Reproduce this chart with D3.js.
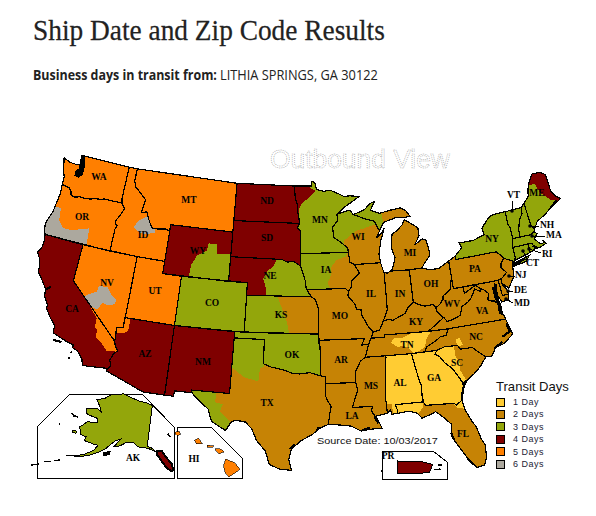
<!DOCTYPE html>
<html>
<head>
<meta charset="utf-8">
<script src="https://cdnjs.cloudflare.com/ajax/libs/d3/7.8.5/d3.min.js"></script>
<style>
body { margin: 0; background: #fff; }
svg { display: block; }
</style>
</head>
<body>
<svg id="chart" width="596" height="516"></svg>
<script>
// legend categories
var dayLabels = ["1 Day", "2 Days", "3 Days", "4 Days", "5 Days", "6 Days"];
var dayColors = ["#ffcc33", "#c68305", "#93a60b", "#7f0000", "#ff7f00", "#aca89e"];

// shared borders, lon/lat
var columbia = [[-124.05,46.27],[-123.4,46.2],[-123.15,46.15],[-122.85,45.9],[-122.75,45.65],[-122.3,45.55],[-121.7,45.7],[-121.2,45.65],[-120.6,45.72],[-119.95,45.85],[-119.3,45.93],[-119,46],[-116.92,46]];
var snake = [[-116.92,46],[-116.78,45.85],[-116.46,45.6],[-116.67,45.3],[-116.85,44.95],[-117.2,44.45],[-117.05,44.23],[-116.9,44.15],[-117.03,43.83],[-117.03,42]];
var colorado = [[-114.72,32.72],[-114.5,33],[-114.7,33.4],[-114.5,33.9],[-114.15,34.26],[-114.43,34.6],[-114.63,35]];
var bitterroot = [[-111.05,44.47],[-111.5,44.6],[-112.3,44.5],[-113,44.45],[-113.45,44.95],[-113.95,45.7],[-114.55,45.55],[-114.35,46.65],[-115.3,47.25],[-115.75,47.5],[-116.05,48],[-116.05,49]];
var redRiverN = [[-97.23,49],[-97.1,48],[-96.85,47.5],[-96.8,46.9],[-96.56,45.94]];
var sdMn = [[-96.56,45.94],[-96.85,45.6],[-96.45,45.3],[-96.45,43.5],[-96.45,42.49]];
var missouriSd = [[-96.45,42.49],[-97.2,42.85],[-97.9,42.8],[-98.5,43]];
var missouriNe = [[-96.45,42.49],[-96.1,41.7],[-95.9,41.2],[-95.85,40.7],[-95.31,40]];
var missouriKs = [[-95.31,40],[-94.9,39.8],[-94.62,39.1]];
var redRiverS = [[-94.48,33.64],[-95.5,33.9],[-96.5,33.8],[-97.2,33.85],[-98,34.1],[-99.2,34.3],[-100,34.56]];
var sabine = [[-94.04,31.99],[-93.8,31.5],[-93.55,31.15],[-93.7,30.5],[-93.85,29.7]];
var wiMn = [[-92.29,46.66],[-92.29,46.08],[-92.85,45.6],[-92.75,44.75],[-91.9,44.3],[-91.25,43.85],[-91.22,43.5]];
var mississippiIa = [[-90.65,42.5],[-90.15,41.8],[-91.05,41.2],[-91.1,40.7],[-91.42,40.38]];
var mississippiMo = [[-91.42,40.38],[-91.5,40],[-90.75,39.25],[-90.7,38.9],[-90.15,38.8],[-90.2,38.4],[-89.5,37.3],[-89.15,37]];
var mississippiAr = [[-89.7,36],[-90.1,35],[-90.6,34.7],[-91.1,33.9],[-91.17,33]];
var mississippiLa = [[-91.17,33],[-91,32.4],[-91.6,31]];
var pearl = [[-89.73,31],[-89.85,30.65],[-89.55,30.18]];
var msAl = [[-88.2,35],[-88.1,34.9],[-88.47,31.9],[-88.4,30.37]];
var chattahoochee = [[-85.18,32.87],[-85,32.3],[-85.05,31.55],[-85,31]];
var savannah = [[-83.11,35],[-83.35,34.7],[-82.9,34.45],[-82.55,33.95],[-81.9,33.4],[-81.4,32.6],[-81.1,32.1]];
var ncSc = [[-83.11,35],[-82.3,35.2],[-81.05,35.15],[-80.8,34.82],[-79.67,34.8],[-78.55,33.86]];
var tnNc = [[-81.68,36.59],[-82,36.1],[-82.6,36.03],[-83.1,35.75],[-84,35.4],[-84.32,34.99]];
var ohioKy = [[-89.15,37],[-88.5,37.1],[-88.05,37.8],[-87.5,37.9],[-87.1,37.8],[-86.5,38],[-85.8,38.25],[-85.4,38.7],[-84.82,39.1],[-84.2,38.8],[-83.7,38.65],[-82.85,38.7],[-82.6,38.4]];
var bigSandy = [[-82.6,38.4],[-82.6,38.17],[-82,37.54],[-81.97,37.54],[-83.68,36.6]];
var wvVa = [[-81.97,37.54],[-81.68,37.2],[-81.2,37.25],[-80.3,37.5],[-79.95,38.2],[-79.3,38.45],[-78.87,38.77],[-78.35,39.39],[-77.83,39.13],[-77.72,39.32]];
var potomac = [[-77.72,39.32],[-77.45,39.2],[-77.05,38.85],[-77.25,38.35],[-76.3,37.95]];
var ohioWv = [[-82.6,38.4],[-82.2,38.6],[-81.75,39],[-81.7,39.25],[-80.87,39.7],[-80.52,40.64]];
var wvMd = [[-79.48,39.72],[-79.48,39.2],[-78.4,39.62],[-78.2,39.68],[-77.72,39.32]];
var wabash = [[-88.05,37.8],[-87.55,38.7],[-87.53,39.35],[-87.53,41.72]];
var wiUp = [[-90.4,46.55],[-89.1,46.13],[-88.1,45.9],[-87.8,45.35],[-87.6,45.1]];
var delaware = [[-75.35,42],[-75.05,41.75],[-74.7,41.36],[-75.13,40.98],[-75.2,40.68],[-74.75,40.2],[-75.4,39.8]];
var nyVt = [[-73.35,45],[-73.4,44],[-73.25,43.6],[-73.27,42.75]];
var vtNh = [[-71.5,45.01],[-71.6,44.5],[-72.05,44.1],[-72.4,43.3],[-72.46,42.73]];
var potato = [[-71.08,45.3],[-70.4,45.75],[-70.25,46.2],[-70,46.7],[-69.23,47.46],[-68.3,47.35],[-67.79,47.07],[-67.79,45.7],[-67.45,45.2],[-67,44.85],[-68.5,44.3],[-69.1,44],[-70.2,43.6],[-70.7,43.07]];

function rev(chain) { return chain.slice().reverse(); }

// states, lon/lat rings
var WA = [[-124.73,48.38],[-123.9,48.17],[-123.1,48.15],[-122.76,48.2],[-122.76,49],[-117.04,49],[-117.04,46.42]].concat(rev(columbia), [[-124.1,46.9],[-124.35,47.3],[-124.6,47.9]]);
var OR = columbia.concat(snake, [[-124.21,42],[-124.4,42.3],[-124.55,42.84],[-124.4,43.3],[-124.15,43.9],[-124.05,44.7],[-123.95,45.5]]);
var CA = [[-124.21,42],[-120,42],[-120,39],[-114.63,35]].concat(rev(colorado), [[-117.12,32.53],[-117.3,33],[-117.9,33.6],[-118.4,33.75],[-118.45,34],[-119.2,34.15],[-120.6,34.55],[-120.65,35.15],[-121.3,35.7],[-121.85,36.3],[-121.9,36.65],[-122.4,37.2],[-122.5,37.8],[-123,38.3],[-123.7,38.95],[-123.8,39.5],[-124,40],[-124.4,40.44],[-124.1,41],[-124.1,41.5]]);
var NV = [[-120,42],[-114.04,42],[-114.04,37],[-114.05,36.2],[-114.7,36.1],[-114.57,35.2],[-114.63,35],[-120,39]];
var ID = [[-117.04,49],[-116.05,49]].concat(rev(bitterroot), [[-111.05,42],[-114.04,42]], rev(snake), [[-117.04,46.42]]);
var MT = [[-116.05,49],[-104.05,49],[-104.05,45],[-111.05,45]].concat(bitterroot);
var WY = [[-111.05,45],[-104.05,45],[-104.05,41],[-111.05,41]];
var UT = [[-114.04,42],[-111.05,42],[-111.05,41],[-109.05,41],[-109.05,37],[-114.04,37]];
var CO = [[-109.05,41],[-102.05,41],[-102.05,37],[-109.05,37]];
var AZ = [[-114.05,37],[-109.05,37],[-109.05,31.33],[-111.07,31.33],[-114.81,32.5]].concat(colorado, [[-114.57,35.2],[-114.7,36.1],[-114.05,36.2]]);
var NM = [[-109.05,37],[-103,37],[-103.04,32],[-106.62,32],[-106.53,31.78],[-108.2,31.78],[-108.2,31.33],[-109.05,31.33]];
var ND = [[-104.05,49]].concat(redRiverN, [[-104.05,45.94]]);
var SD = [[-104.05,45.94]].concat(sdMn, missouriSd, [[-104.05,43]]);
var NE = [[-104.05,43],[-98.5,43]].concat(rev(missouriSd), missouriNe, [[-102.05,40],[-102.05,41],[-104.05,41]]);
var KS = [[-102.05,40]].concat(missouriKs, [[-94.62,37],[-102.05,37]]);
var OK = [[-103,37],[-94.62,37],[-94.43,35.4]].concat(redRiverS, [[-100,36.5],[-103,36.5]]);
var TX = [[-103,36.5],[-100,36.5]].concat(rev(redRiverS), [[-94.04,33.55]], sabine, [[-94.7,29.35],[-95.3,28.9],[-96.4,28.35],[-97.2,27.65],[-97.4,26.8],[-97.15,25.96],[-98.2,26.05],[-99.1,26.4],[-99.5,27.5],[-100.3,28.3],[-100.8,29.25],[-101.4,29.77],[-102.3,29.88],[-102.7,29.7],[-103.15,28.98],[-104.5,29.65],[-104.9,30.6],[-106.2,31.47],[-106.53,31.78],[-106.62,32],[-103.04,32]]);
var MN = [[-97.23,49],[-95.15,49],[-95.15,49.38],[-94.8,49.3],[-94.6,48.72],[-93.8,48.55],[-92.95,48.62],[-92,48.3],[-91.4,48.07],[-90.75,48.1],[-89.6,48],[-90.5,47.6],[-91.3,47.25],[-92.1,46.75]].concat(wiMn, [[-96.45,43.5],[-96.45,45.3],[-96.85,45.6]], rev(redRiverN));
var IA = [[-96.45,43.5],[-91.22,43.5],[-91.1,42.7]].concat(mississippiIa, [[-91.73,40.61],[-95.77,40.58],[-95.85,40.7],[-95.9,41.2],[-96.1,41.7],[-96.45,42.49]]);
var MO = [[-95.77,40.58],[-91.73,40.61]].concat(mississippiMo, [[-89.42,36.5],[-89.7,36],[-90.37,36],[-90.07,36.5],[-94.62,36.5],[-94.62,37]], rev(missouriKs));
var AR = [[-94.62,36.5],[-90.07,36.5],[-90.37,36]].concat(mississippiAr, [[-94.04,33],[-94.04,33.55],[-94.48,33.64],[-94.43,35.4]]);
var LA = [[-94.04,33]].concat(mississippiLa, pearl, [[-89.4,30.05],[-89,29.2],[-90.1,29.15],[-90.9,29.05],[-91.8,29.5],[-92.6,29.6]], rev(sabine));
var MS = rev(mississippiAr.slice(1)).concat([[-88.2,35]], msAl.slice(1), rev(pearl), [[-91.6,31],[-91,32.4]]);
var AL = [[-88.2,35],[-85.6,34.98]].concat(chattahoochee, [[-87.6,31],[-87.45,30.5],[-87.5,30.28],[-88,30.25],[-88.1,30.6],[-88.4,30.37],[-88.47,31.9],[-88.1,34.9]]);
var GA = [[-85.6,34.98]].concat(savannah, [[-81.15,31.7],[-81.4,31],[-81.45,30.72],[-82.05,30.4],[-82.2,30.57],[-84.86,30.7]], rev(chattahoochee));
var FL = [[-87.6,31],[-85,31],[-84.86,30.7],[-82.2,30.57],[-82.05,30.4],[-81.45,30.72],[-81.3,29.9],[-80.9,29],[-80.55,28.4],[-80.3,27.4],[-80.03,26.8],[-80.13,25.8],[-80.4,25.2],[-81.1,25.13],[-81.75,25.95],[-82.1,26.6],[-82.7,27.6],[-82.85,28.2],[-82.7,28.9],[-83.4,29.6],[-84,30.1],[-84.35,29.95],[-85.3,29.7],[-85.7,30.15],[-86.4,30.38],[-87.5,30.28],[-87.45,30.5]];
var SC = ncSc.concat([[-79.2,33.2],[-79.9,32.7],[-80.65,32.25]], rev(savannah));
var NC = [[-84.32,34.99]].concat(ncSc, [[-77.95,33.85],[-77.4,34.5],[-76.55,34.65],[-75.55,35.25],[-75.9,36.55]], tnNc);
var TN = [[-89.42,36.5],[-88.05,36.5],[-88.07,36.68],[-83.68,36.6]].concat(tnNc, [[-85.6,34.98],[-88.2,35],[-90.1,35],[-89.7,36]]);
var KY = [[-89.42,36.5],[-89.15,37]].concat(ohioKy.slice(1), bigSandy.slice(1), [[-88.07,36.68],[-88.05,36.5]]);
var VA = [[-83.68,36.6],[-81.97,37.54]].concat(wvVa.slice(1), potomac.slice(1), [[-76.3,37.6],[-76.4,37.1],[-76,36.9],[-75.9,36.55],[-81.68,36.59]]);
var WV = ohioWv.concat([[-80.52,39.72]], wvMd, rev(wvVa), [[-82,37.54],[-82.6,38.17]]);
var OH = [[-84.82,41.7],[-83.45,41.73],[-82.7,41.5],[-81.7,41.5],[-80.52,41.98],[-80.52,40.64]].concat(rev(ohioWv).slice(1), rev(ohioKy).slice(1, 5));
var IN = [[-87.53,41.72],[-87.2,41.62],[-86.82,41.76],[-84.82,41.7],[-84.82,39.1],[-85.4,38.7],[-85.8,38.25],[-86.5,38],[-87.1,37.8],[-87.5,37.9]].concat(wabash);
var IL = [[-90.65,42.5],[-87.8,42.5],[-87.6,41.85]].concat(rev(wabash), [[-88.5,37.1]], rev(mississippiMo), rev(mississippiIa).slice(1));
var WI = [[-92.29,46.66],[-91.2,46.87],[-90.8,46.9]].concat(wiUp, [[-88,44.55],[-87.4,44.9],[-87.05,45.28],[-87.55,44.3],[-87.9,43.2],[-87.8,42.5],[-90.65,42.5],[-91.1,42.7]], rev(wiMn));
var MI = [[-86.82,41.76],[-84.82,41.7],[-83.45,41.73],[-83.15,42.05],[-82.5,42.6],[-82.42,43],[-82.6,43.9],[-83,44.05],[-83.9,43.65],[-83.3,44.35],[-83.3,45],[-84.7,45.78],[-85,45.4],[-85.6,45],[-86.25,44.7],[-86.5,43.7],[-86.2,42.8],[-86.6,41.9]];
var UP = [[-90.4,46.55],[-89.1,46.9],[-88.4,47.38],[-87.9,47.47],[-88.45,46.8],[-87.4,46.5],[-86.2,46.67],[-85,46.77],[-84.4,46.5],[-84,46],[-84.7,45.95],[-85.5,46.05],[-86.5,45.85],[-87.05,45.75],[-87.6,45.1],[-87.8,45.35],[-88.1,45.9],[-89.1,46.13]];
var PA = [[-80.52,41.98],[-79.76,42.27],[-79.76,42]].concat(delaware, [[-75.79,39.72],[-80.52,39.72],[-80.52,40.64]]);
var NY = [[-79.76,42.27],[-78.9,42.85],[-79.05,43.27],[-77.5,43.27],[-76.2,43.55],[-76.3,44.1],[-75.3,44.85],[-74.7,45]].concat(nyVt, [[-73.5,42.05],[-73.5,41.2],[-73.66,41],[-73.9,40.75],[-72,41.1],[-72.5,40.7],[-73.9,40.55],[-74,40.7],[-73.9,41],[-74.7,41.36],[-75.05,41.75],[-75.35,42],[-79.76,42]]);
var NJ = [[-74.7,41.36],[-73.9,41],[-74,40.45],[-74.1,39.75],[-74.9,38.93],[-75.5,39.45],[-75.4,39.8],[-74.75,40.2],[-75.2,40.68],[-75.13,40.98]];
var DE = [[-75.79,39.72],[-75.4,39.8],[-75.55,39.45],[-75.1,38.8],[-75.05,38.45],[-75.7,38.46]];
var MD = [[-79.48,39.72],[-75.79,39.72],[-75.7,38.46],[-75.05,38.45],[-75.24,38.03],[-75.9,37.95],[-76.2,38.6],[-76.1,39.4],[-76.5,39.2],[-76.5,38.4],[-76.3,38.05]].concat(rev(potomac).slice(1,4), [[-77.72,39.32],[-78.2,39.68],[-78.4,39.62],[-79.48,39.2]]);
var CT = [[-73.5,42.05],[-71.8,42.02],[-71.85,41.32],[-73.66,41],[-73.5,41.2]];
var RI = [[-71.8,42.02],[-71.38,42.02],[-71.2,41.5],[-71.85,41.32]];
var MA = [[-73.27,42.75],[-72.46,42.73],[-71.3,42.7],[-70.85,42.87],[-70.6,42.65],[-71,42.3],[-70.55,41.8],[-70,41.8],[-70.2,42.07],[-69.95,41.7],[-70.6,41.55],[-71.2,41.5],[-71.38,42.02],[-73.5,42.05]];
var VT = [[-73.35,45]].concat(vtNh, [[-73.27,42.75],[-73.25,43.6],[-73.4,44]]);
var NH = vtNh.concat([[-71.3,42.7],[-70.85,42.87],[-70.7,43.07],[-70.98,43.4],[-71.08,45.3]]);
var ME = potato.concat([[-70.98,43.4]]);

// insets
var AK = [[-141,69.65],[-143.5,70.1],[-148,70.4],[-152,70.85],[-156.5,71.3],[-159,70.8],[-162,70.3],[-163.5,69.2],[-166.5,68.3],[-163.5,67.1],[-161.8,66.1],[-164,66.5],[-168,65.6],[-166.3,64.6],[-162,64.5],[-161,63.6],[-164.5,63.1],[-165.5,61.9],[-166,61.6],[-164,60],[-162,59.9],[-161.8,59],[-158,58.8],[-157,58.8],[-157.5,57.5],[-160,55.9],[-163,55],[-164.5,54.7],[-161,55.3],[-158.5,56],[-156,57.3],[-154,58.6],[-153.3,59.5],[-151.9,60.7],[-150.5,61.2],[-151.8,59.3],[-150,59.7],[-148,60.8],[-146,60.9],[-144,60],[-141,59.9],[-139.5,59.6],[-138,59.2],[-139.5,60],[-141,60.3]];
var AK_panhandle = [[-137.5,59.3],[-136,59.3],[-134.5,57.8],[-133,56.5],[-132.6,55],[-133.2,54.8],[-134.5,55.5],[-136,57],[-137.5,58.5]];
var AK_kodiak = [[-154.2,57.5],[-152.5,58.1],[-152.3,57.4],[-154,56.8]];
var AK_stLawrence = [[-171.7,63.5],[-168.8,63.3],[-170,63.1]];
var AK_nunivak = [[-167.4,60.2],[-166,60.4],[-165.7,59.9],[-167,59.9]];
var AK_stMatthew = [[-172.9,60.4],[-172.5,60.4]];
var AK_aleutians = [[[-165,53.3],[-166.5,52.8]],[[-167,52.3],[-168.8,51.8]],[[-169.5,50.8],[-171,50]]];
var HI_big = [[-155.9,20.25],[-155.2,19.95],[-154.8,19.5],[-155.65,18.95],[-155.95,19.3],[-156.05,19.75]];
var HI_maui = [[-156.7,20.95],[-156.3,20.95],[-156,20.75],[-156.4,20.6],[-156.6,20.8]];
var HI_oahu = [[-158.25,21.55],[-157.95,21.7],[-157.65,21.3],[-158.1,21.3]];
var HI_kauai = [[-159.75,22.1],[-159.4,22.2],[-159.3,21.95],[-159.6,21.9]];
var HI_molokai = [[-157.3,21.2],[-156.75,21.17],[-156.9,21.05],[-157.3,21.08]];
var HI_niihau = [[-160.25,22],[-160.05,21.8]];
var PR = [[-67.2,18.5],[-66.1,18.47],[-65.6,18.35],[-65.75,18],[-66.8,17.95],[-67.2,17.95]];
var PR_vieques = [[-65.55,18.13],[-65.25,18.15]];
var PR_culebra = [[-65.35,18.32],[-65.2,18.33]];
var PR_mona = [[-67.95,18.08],[-67.85,18.08]];

var stateRings = {WA:WA, OR:OR, CA:CA, NV:NV, ID:ID, MT:MT, WY:WY, UT:UT, CO:CO, AZ:AZ, NM:NM, ND:ND, SD:SD, NE:NE, KS:KS, OK:OK, TX:TX, MN:MN, IA:IA, MO:MO, AR:AR, LA:LA, MS:MS, AL:AL, GA:GA, FL:FL, SC:SC, NC:NC, TN:TN, KY:KY, VA:VA, WV:WV, OH:OH, IN:IN, IL:IL, WI:WI, MI:MI, UP:UP, PA:PA, NY:NY, NJ:NJ, DE:DE, MD:MD, CT:CT, RI:RI, MA:MA, VT:VT, NH:NH, ME:ME};

// days in transit for the biggest part of each state
var days5 = ["WA","OR","ID","MT","NV","UT"];
var days4 = ["CA","AZ","NM","WY","ND","SD","NE"];
var days3 = ["CO","OK","MN","IA","WI","UP","NY","VT","NH","ME","MA","CT","RI","KS"];
var days2 = ["TX","LA","AR","MO","IL","IN","OH","MI","KY","WV","VA","PA","NJ","DE","MD","NC","SC","TN","MS","FL"];
var days1 = ["AL","GA"];

// transit zones that cut across state lines
var zones = [
  {state:"OR", days:6, ring:[[-125,44.4],[-123.4,44.4],[-123.2,43.4],[-122.6,42.9],[-121.5,42.9],[-120.6,43.2],[-119.8,43.4],[-119.6,41.9],[-125,41.9]]},
  {state:"ID", days:6, ring:[[-115.1,44.3],[-114.6,44.9],[-113.9,45.3],[-113.3,45.6],[-112.8,45],[-112.6,44.1],[-113.3,44],[-113.6,43.9],[-114.3,43.9]]},
  {state:"NV", days:6, ring:[[-118.9,37.8],[-118,38.3],[-117.4,38.6],[-117.3,39.1],[-116.4,39.1],[-115.9,38.6],[-115.3,38.3],[-115.3,37.9],[-116,37.7],[-116.6,37.8],[-116.9,37.2],[-117.6,37.3],[-118.5,37]]},
  {state:"CA", days:5, ring:[[-117.6,37.2],[-116.8,36.5],[-116.8,35.8],[-116.5,35.6],[-116.5,35],[-115.9,34.7],[-115.2,34.1],[-114,34.2],[-114,37.2]]},
  {state:"AZ", days:5, ring:[[-114.8,37],[-113.5,37],[-113.5,36],[-114,35.7],[-114.8,35.7]]},
  {state:"WY", days:3, ring:[[-108.3,40.9],[-108.2,42],[-107.7,42.8],[-106.7,43.3],[-106.6,43.9],[-105.7,43.9],[-105.5,43.1],[-103.9,43.2],[-103.9,40.9]]},
  {state:"NE", days:3, ring:[[-99,43.1],[-99.3,42.5],[-100,42],[-100.4,41.4],[-100.1,40.7],[-100,39.9],[-95,39.9],[-95,43.1]]},
  {state:"KS", days:2, ring:[[-98.9,40.1],[-98.3,39],[-97.8,38],[-97.5,36.9],[-94,36.9],[-94,40.1]]},
  {state:"TX", days:3, ring:[[-103.2,36.7],[-99.9,36.7],[-99.9,34.3],[-100.3,34.2],[-100.4,33.1],[-101.8,33.4],[-102.3,33.7],[-103.2,34.2]]},
  {state:"TX", days:3, ring:[[-107,32.1],[-104.3,32.1],[-104.3,31.2],[-103.6,31.1],[-103.8,30.5],[-102.6,29.6],[-102.7,28.5],[-107,28.5]]},
  {state:"MN", days:4, ring:[[-97.5,49.1],[-95.4,49.1],[-95.3,48.8],[-94.7,48.6],[-95.6,48],[-96.3,47.6],[-96.6,47.2],[-96.7,45.7],[-97,45.7],[-97.5,46]]},
  {state:"WI", days:2, ring:[[-91.7,42],[-91.6,44.5],[-91.2,44.7],[-90.3,45.2],[-89.2,45.4],[-88.2,45.6],[-87,45.6],[-86.8,42]]},
  {state:"UP", days:2, ring:[[-87.3,47],[-87,45],[-83.5,45.5],[-83.5,47]]},
  {state:"IA", days:2, ring:[[-91.2,43.6],[-91.5,43.2],[-92.6,42.9],[-93.2,42.3],[-93.2,41.7],[-93.6,41.1],[-93.2,40.5],[-90,40.3],[-90,43.6]]},
  {state:"TN", days:1, ring:[[-87.5,36],[-87.1,36.4],[-86.5,36.3],[-86,36.4],[-85,36.7],[-83,37],[-84,36],[-84.2,35.4],[-85.3,34.9],[-85.8,35.4],[-86.3,35.7],[-86.8,35.6]]},
  {state:"SC", days:1, ring:[[-83.5,35.3],[-81.4,35.3],[-81.4,34.2],[-81.1,33.9],[-81.2,33.2],[-80.7,32.2],[-81.5,32],[-83.5,34]]},
  {state:"NC", days:1, ring:[[-81.1,35.7],[-80.7,35.7],[-80.5,35.1],[-81.1,35.1]]},
  {state:"AL", days:2, ring:[[-88.6,31.1],[-87.9,31.1],[-87.9,30],[-88.6,30]]},
  {state:"FL", days:1, ring:[[-87.7,31.1],[-85,31.1],[-85.1,30.55],[-85.6,30.1],[-87.7,30]]},
  {state:"FL", days:1, ring:[[-82.5,30.9],[-81,30.9],[-81,29.9],[-82,30.2]]},
  {state:"ME", days:4, ring:[[-70.5,46.6],[-69.3,46.6],[-69,45.8],[-68.1,45],[-67,44.6],[-66.5,48],[-70.5,48]]}
];

// dark inlets and small islands
var puget = [[-122.9,49],[-122.4,48.95],[-122.15,48.3],[-122.1,47.5],[-122.45,47.15],[-123,47.2],[-123.05,47.7],[-122.75,47.9],[-122.85,48.4]];
var chesapeake = [[-76.1,39.5],[-76.4,38.9],[-76.3,38.2],[-76.2,37.6],[-76.2,37]];
var coastDark = [
  [[-124.75,48.35],[-124.6,47.95]],
  [[-76.6,35.2],[-75.8,35.5],[-75.9,36.2]],
  [[-77.6,34.4],[-76.7,34.8]],
  [[-81.4,31],[-81.15,31.7],[-80.7,32.3]],
  [[-82.85,28.2],[-82.7,27.6]],
  [[-81.75,25.95],[-81.3,25.4]],
  [[-89.6,30.15],[-89.3,29.6]],
  [[-90.8,29.1],[-90.1,29.3]],
  [[-94.7,29.5],[-94.9,29.2]],
  [[-97.3,27.7],[-96.9,28.1]],
  [[-74,40.6],[-72.5,40.95]],
  [[-71.4,41.8],[-70.9,41.5]],
  [[-68.4,44.4],[-67.4,44.8]],
  [[-122.4,37.75],[-122.1,38.1]],
  [[-120.4,34],[-119.6,34]],
  [[-118.5,33.4],[-118.4,33.35]],
  [[-118.55,32.95],[-118.45,32.85]]
];

// projections are the library's, only scale and offset are fitted by eye.
// the source map is a little wider than true, and its alaska quite flat
var projection = d3.geoConicEqualArea().parallels([29.5, 45.5]).rotate([96, 0]).center([0, 37.5]).scale(705).translate([304, 328]);
var akProjection = d3.geoConicEqualArea().parallels([55, 65]).rotate([135, 0]).center([0, 63]).scale(345).translate([165, 0]);
var hiProjection = d3.geoMercator().rotate([157, 0]).center([0, 20.8]).scale(760).translate([211, 451]);
var prProjection = d3.geoMercator().rotate([66.4, 0]).center([0, 18.2]).scale(1270).translate([415, 468]);

function usXY(d) { var q = projection(d); return [q[0] * 1.0286 - 8, q[1]]; }
function akXY(d) { var q = akProjection(d); return [q[0], 435 + q[1] * 0.73]; }

function ringPath(toXY) {
  return d3.line().x(function(d) { return toXY(d)[0]; }).y(function(d) { return toXY(d)[1]; });
}
var usPath = ringPath(usXY);

function daysOf(state) {
  if (days1.indexOf(state) >= 0) return 1;
  if (days2.indexOf(state) >= 0) return 2;
  if (days3.indexOf(state) >= 0) return 3;
  if (days4.indexOf(state) >= 0) return 4;
  return 5;
}

var svg = d3.select("#chart");

// squeeze a text to the width it has in the reference
function fitText(sel, x, y, width) {
  var w = sel.node().getComputedTextLength();
  sel.attr("transform", "translate(" + x + "," + y + ") scale(" + (width / w) + ",1)");
  return sel;
}

fitText(svg.append("text")
  .attr("font-family", "Liberation Serif").attr("font-size", 30).attr("fill", "#222")
  .attr("stroke", "#222").attr("stroke-width", 0.25)
  .text("Ship Date and Zip Code Results"), 33, 40, 352);
fitText(svg.append("text")
  .attr("font-family", "Open Sans").attr("font-weight", "bold").attr("font-size", 14).attr("fill", "#222")
  .text("Business days in transit from:"), 33, 80, 184);
fitText(svg.append("text")
  .attr("font-family", "Open Sans").attr("font-size", 14).attr("fill", "#222")
  .text("LITHIA SPRINGS, GA  30122"), 220, 80, 158);

fitText(svg.append("text")
  .attr("font-family", "Liberation Sans").attr("font-size", 25).attr("fill", "#fff")
  .attr("stroke", "#888").attr("stroke-width", 0.5).attr("stroke-dasharray", "1 1")
  .text("Outbound View"), 270, 168, 180);

var map = svg.append("g").attr("shape-rendering", "crispEdges");
var names = Object.keys(stateRings);

var defs = svg.append("defs");
names.forEach(function(name) {
  defs.append("clipPath").attr("id", "clip-" + name)
    .append("path").attr("d", usPath(stateRings[name]) + "Z");
});

map.selectAll("path.state").data(names).enter().append("path")
  .attr("class", "state")
  .attr("d", function(d) { return usPath(stateRings[d]) + "Z"; })
  .attr("fill", function(d) { return dayColors[daysOf(d) - 1]; });

map.selectAll("path.zone").data(zones).enter().append("path")
  .attr("class", "zone")
  .attr("clip-path", function(d) { return "url(#clip-" + d.state + ")"; })
  .attr("d", function(d) { return usPath(d.ring) + "Z"; })
  .attr("fill", function(d) { return dayColors[d.days - 1]; });

map.selectAll("path.border").data(names).enter().append("path")
  .attr("class", "border")
  .attr("d", function(d) { return usPath(stateRings[d]) + "Z"; })
  .attr("fill", "none").attr("stroke", "#000").attr("stroke-width", 1.2);

map.append("path").attr("d", usPath(puget) + "Z").attr("fill", "#000");
map.append("path").attr("d", usPath(chesapeake)).attr("fill", "none").attr("stroke", "#000").attr("stroke-width", 3.5);
map.selectAll("path.coast").data(coastDark).enter().append("path")
  .attr("class", "coast")
  .attr("d", usPath).attr("fill", "none").attr("stroke", "#000").attr("stroke-width", 2.2);

// inset frames
var insets = svg.append("g").attr("shape-rendering", "crispEdges");
insets.append("path").attr("d", "M37,427L70,394H142L174,427V478H37Z").attr("fill", "none").attr("stroke", "#000");
insets.append("path").attr("d", "M177,427H211L242,458V478H177Z").attr("fill", "none").attr("stroke", "#000");
insets.append("path").attr("d", "M382,451H433L447,462V479H382Z").attr("fill", "none").attr("stroke", "#000");

var akPath = ringPath(akXY);
var hiPath = ringPath(hiProjection);
var prPath = ringPath(prProjection);

insets.append("path").attr("d", akPath(AK) + "Z").attr("fill", dayColors[2]).attr("stroke", "#000");
insets.append("path").attr("d", akPath(AK_panhandle) + "Z").attr("fill", dayColors[3]).attr("stroke", "#000").attr("stroke-width", 2);
[AK_kodiak, AK_stLawrence, AK_nunivak].forEach(function(r) {
  insets.append("path").attr("d", akPath(r) + "Z").attr("fill", r === AK_kodiak ? "#000" : dayColors[2]).attr("stroke", "#000");
});
AK_aleutians.concat([AK_stMatthew]).forEach(function(r) {
  insets.append("path").attr("d", akPath(r)).attr("fill", "none").attr("stroke", "#000").attr("stroke-width", 1.5);
});
[HI_big, HI_maui, HI_oahu, HI_kauai, HI_molokai].forEach(function(r) {
  insets.append("path").attr("d", hiPath(r) + "Z").attr("fill", dayColors[4]).attr("stroke", "#000").attr("stroke-width", 0.6);
});
insets.append("path").attr("d", hiPath(HI_niihau)).attr("fill", "none").attr("stroke", "#000").attr("stroke-width", 1.5);
insets.append("path").attr("d", prPath(PR) + "Z").attr("fill", dayColors[3]).attr("stroke", "#000");
[PR_vieques, PR_culebra, PR_mona].forEach(function(r) {
  insets.append("path").attr("d", prPath(r)).attr("fill", "none").attr("stroke", "#000").attr("stroke-width", 1.5);
});

// state labels, set where the source map has them
var stateLabels = ["WA","OR","CA","NV","ID","MT","WY","UT","AZ","CO","NM","ND","SD","NE","KS","OK","TX","MN","IA","MO","AR","LA","WI","IL","MS","MI","IN","KY","TN","AL","GA","OH","WV","VA","NC","SC","FL","PA","NY","ME","AK","HI","PR"];
var labelX = [99,82,72,107,143,189,198,155,145,212,203,267,267,270,281,292,267,320,326,340,341,352,358,371,371,410,400,416,407,400,434,431,452,482,476,457,463,475,492,537,133,194,388];
var labelY = [178,218,310,284,236,201,252,292,355,304,363,202,239,277,316,356,404,221,271,317,361,417,238,295,387,254,295,323,346,384,379,285,305,312,338,364,435,270,240,194,459,460,457];

svg.selectAll("text.state").data(stateLabels).enter().append("text")
  .attr("class", "state")
  .attr("x", function(d, i) { return labelX[i]; })
  .attr("y", function(d, i) { return labelY[i]; })
  .attr("text-anchor", "middle").attr("dominant-baseline", "middle")
  .attr("font-family", "Liberation Serif").attr("font-weight", "bold").attr("font-size", 9.5).attr("fill", "#000")
  .text(function(d) { return d; });

// labels with a leader
var sideLabels = ["VT","NH","MA","RI","CT","NJ","DE","MD"];
var sideX = [507,540,546,542,526,515,514,514];
var sideY = [196,226,236,255,264,276,291,304];
var leadX1 = [512,539,545,541,527,514,513,513];
var leadY1 = [201,226,236,253,259,276,291,303];
var leadX2 = [512,530,532,529,523,509,508,506];
var leadY2 = [211,226,236,249,251,276,291,299];
svg.selectAll("text.side").data(sideLabels).enter().append("text")
  .attr("class", "side")
  .attr("x", function(d, i) { return sideX[i]; })
  .attr("y", function(d, i) { return sideY[i]; })
  .attr("dominant-baseline", "middle")
  .attr("font-family", "Liberation Serif").attr("font-weight", "bold").attr("font-size", 9.5).attr("fill", "#000")
  .text(function(d) { return d; });
svg.selectAll("line.side").data(sideLabels).enter().append("line")
  .attr("class", "side").attr("shape-rendering", "crispEdges")
  .attr("x1", function(d, i) { return leadX1[i]; })
  .attr("y1", function(d, i) { return leadY1[i]; })
  .attr("x2", function(d, i) { return leadX2[i]; })
  .attr("y2", function(d, i) { return leadY2[i]; })
  .attr("stroke", "#000");
svg.selectAll("circle.side").data(sideLabels).enter().append("circle")
  .attr("class", "side")
  .attr("cx", function(d, i) { return leadX2[i]; })
  .attr("cy", function(d, i) { return leadY2[i]; })
  .attr("r", 1.8).attr("fill", "#000");

fitText(svg.append("text")
  .attr("font-family", "Liberation Sans").attr("font-size", 9.5).attr("fill", "#111")
  .text("Source Date: 10/03/2017"), 317, 444, 121);

// legend
fitText(svg.append("text")
  .attr("font-family", "Liberation Sans").attr("font-size", 13).attr("fill", "#111")
  .text("Transit Days"), 496, 391, 73);
var legendY = d3.scalePoint().domain(dayLabels).range([402, 464]);
var legend = svg.selectAll("g.legend").data(dayLabels).enter().append("g").attr("class", "legend")
  .attr("transform", function(d) { return "translate(496," + legendY(d) + ")"; });
legend.append("rect").attr("y", -4).attr("width", 8).attr("height", 8)
  .attr("shape-rendering", "crispEdges")
  .attr("fill", function(d, i) { return dayColors[i]; }).attr("stroke", "#000");
legend.append("text").attr("x", 17).attr("y", 3)
  .attr("font-family", "Liberation Sans").attr("font-size", 9).attr("letter-spacing", 0.5).attr("fill", "#223")
  .text(function(d) { return d; });
</script>
</body>
</html>
